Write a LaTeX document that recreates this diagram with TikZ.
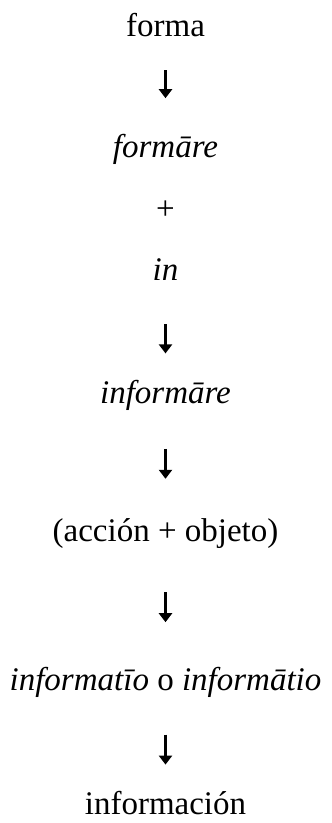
\documentclass[tikz,border=0pt]{standalone}
\usepackage{fontspec}
\setmainfont{Liberation Serif}
\usetikzlibrary{arrows.meta,positioning}

\begin{document}
\begin{tikzpicture}[
  x=1bp,y=1bp,
  word/.style={inner sep=0pt,text height=24bp,text depth=8bp,
               font=\fontsize{33bp}{40bp}\selectfont},
  arrow/.style 2 args={-{Triangle[width=13bp,length=9bp]},line width=3.5bp,
                       shorten <=#1,shorten >=#2}
]
\useasboundingbox (0,0) rectangle (331,-823);
\node[word] (forma) at (165.5,-28) {forma};
\node[word,below=89bp of forma] (formare) {\textit{formāre}};
\node[word,below=30bp of formare] (plus) {+};
\node[word,below=28bp of plus] (in) {\textit{in}};
\node[word,below=91bp of in] (informare) {\textit{informāre}};
\node[word,below=105bp of informare] (accion) {(acción + objeto)};
\node[word,below=117bp of accion] (informatio) {\textit{informatīo} o \textit{informātio}};
\node[word,below=92bp of informatio] (informacion) {información};

\draw[arrow={26bp}{35bp}] (forma) -- (formare);
\draw[arrow={36bp}{26bp}] (in) -- (informare);
\draw[arrow={37bp}{38bp}] (informare) -- (accion);
\draw[arrow={43bp}{44bp}] (accion) -- (informatio);
\draw[arrow={36bp}{26bp}] (informatio) -- (informacion);
\end{tikzpicture}
\end{document}
